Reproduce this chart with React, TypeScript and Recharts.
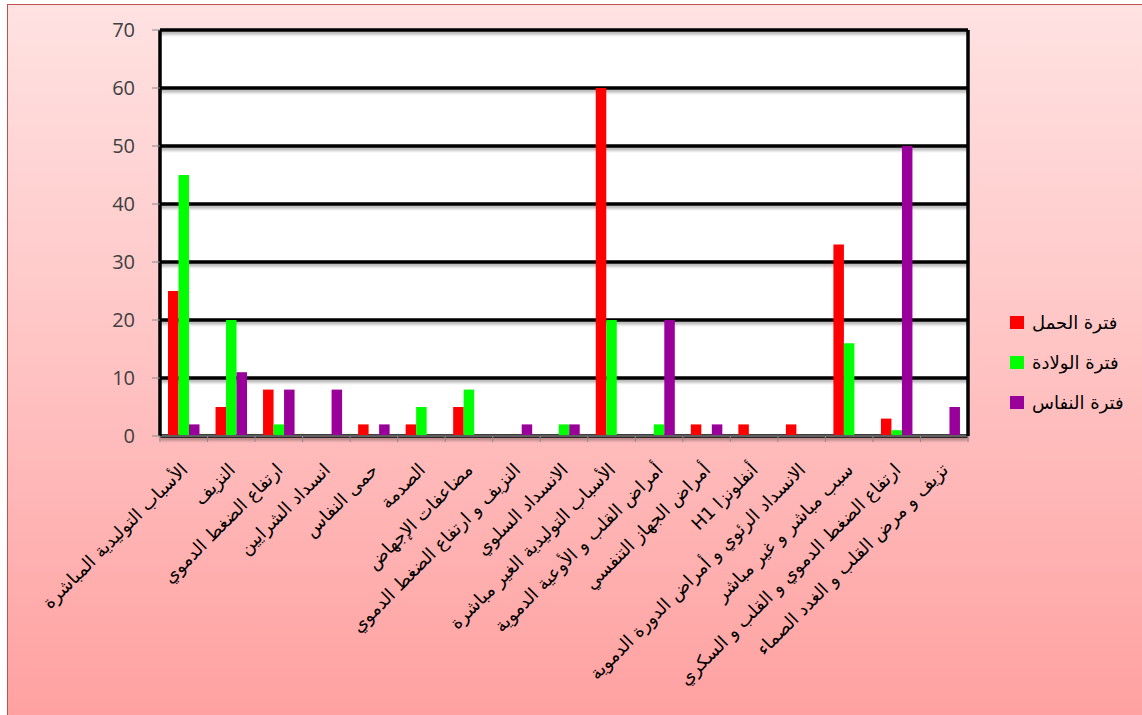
import { BarChart, Bar, XAxis, YAxis, CartesianGrid } from 'recharts'

// causes of maternal death, by period
const causes = [
  'الأسباب التوليدية المباشرة',
  'النزيف',
  'ارتفاع الضغط الدموي',
  'انسداد الشرايين',
  'حمى النفاس',
  'الصدمة',
  'مضاعفات الإجهاض',
  'النزيف و ارتفاع الضغط الدموي',
  'الانسداد السلوي',
  'الأسباب التوليدية الغير مباشرة',
  'أمراض القلب و الأوعية الدموية',
  'أمراض الجهاز التنفسي',
  'أنفلونزا H1',
  'الانسداد الرئوي و أمراض الدورة الدموية',
  'سبب مباشر و غير مباشر',
  'ارتفاع الضغط الدموي و القلب و السكري',
  'تزيف و مرض القلب و الغدد الصماء',
]

const pregnancy = [25, 5, 8, 0, 2, 2, 5, 0, 0, 60, 0, 2, 2, 2, 33, 3, 0]
const delivery = [45, 20, 2, 0, 0, 5, 8, 0, 2, 20, 2, 0, 0, 0, 16, 1, 0]
const postpartum = [2, 11, 8, 8, 2, 0, 0, 2, 2, 0, 20, 2, 0, 0, 0, 50, 5]

const yTicks = [0, 10, 20, 30, 40, 50, 60, 70]

const series = [
  { key: 'pregnancy', name: 'فترة الحمل', color: '#ff0000' },
  { key: 'delivery', name: 'فترة الولادة', color: '#00ff00' },
  { key: 'postpartum', name: 'فترة النفاس', color: '#990099' },
]

const data = causes.map((cause, i) => ({
  cause,
  pregnancy: pregnancy[i],
  delivery: delivery[i],
  postpartum: postpartum[i],
}))

const ARABIC_FONT = '"DejaVu Sans", sans-serif'

function CauseTick(props: any) {
  const { x, y, payload, index } = props
  const half = payload?.offset ?? 23.7
  const left = x - half
  return (
    <g>
      <line x1={left} y1={y} x2={left} y2={y + 6} stroke="#8a8a8a" strokeWidth={1} />
      {index === causes.length - 1 && (
        <line x1={x + half} y1={y} x2={x + half} y2={y + 6} stroke="#8a8a8a" strokeWidth={1} />
      )}
      <text
        transform={`translate(${x + 5},${y + 35}) rotate(-45)`}
        direction="rtl"
        textAnchor="start"
        fontFamily={ARABIC_FONT}
        fontSize={18}
        fill="#000"
      >
        {payload.value}
      </text>
    </g>
  )
}

function GridLine(p: any) {
  return (
    <line
      key={`grid-${p.index}`}
      x1={p.x1}
      y1={p.y1}
      x2={p.x2}
      y2={p.y2}
      stroke="#000"
      strokeWidth={3.5}
      filter="url(#gridShadow)"
    />
  )
}

export default function App() {
  return (
    <div
      style={{
        position: 'absolute',
        left: 0,
        top: 0,
        width: 1142,
        height: 715,
        overflow: 'hidden',
        background: '#fff',
      }}
    >
      <div
        style={{
          position: 'absolute',
          left: 7,
          top: 4,
          width: 1140,
          height: 720,
          border: '1.5px solid #c0504d',
          background: 'linear-gradient(to bottom, #ffe2e2 0%, #ffc6c6 45%, #ffa0a0 100%)',
        }}
      />
      <div style={{ position: 'absolute', left: 0, top: 0 }}>
        <BarChart
          width={1142}
          height={715}
          data={data}
          margin={{ top: 30, right: 172, bottom: 79, left: 100 }}
          barSize={10.5}
          barGap={0}
          barCategoryGap={0}
        >
          <defs>
            <filter id="gridShadow" filterUnits="userSpaceOnUse" x="0" y="0" width="1142" height="715">
              <feDropShadow dx="0" dy="2.5" stdDeviation="1.6" floodColor="#000" floodOpacity="0.35" />
            </filter>
          </defs>
          <CartesianGrid vertical={false} fill="#fff" horizontal={GridLine} yAxisId="l" />
          <XAxis
            dataKey="cause"
            interval={0}
            height={200}
            tickSize={0}
            tickMargin={0}
            tickLine={false}
            axisLine={{ stroke: '#5f5f5f', strokeWidth: 2 }}
            tick={<CauseTick />}
          />
          <YAxis
            yAxisId="l"
            domain={[0, 70]}
            ticks={yTicks}
            width={60}
            tickSize={8}
            tickMargin={17}
            tickLine={{ stroke: '#8a8a8a' }}
            axisLine={{ stroke: '#000', strokeWidth: 3.5 }}
            tick={{ fill: '#404040', fontSize: 20, fontFamily: '"Open Sans", sans-serif' }}
          />
          <YAxis
            yAxisId="r"
            orientation="right"
            domain={[0, 70]}
            width={2}
            tick={false}
            tickLine={false}
            axisLine={{ stroke: '#000', strokeWidth: 3.5 }}
          />
          {series.map((s) => (
            <Bar
              key={s.key}
              yAxisId="l"
              dataKey={s.key}
              name={s.name}
              fill={s.color}
              isAnimationActive={false}
            />
          ))}
        </BarChart>
      </div>
      <div style={{ position: 'absolute', left: 1010, top: 302 }}>
        {series.map((s) => (
          <div key={s.key} style={{ display: 'flex', alignItems: 'center', height: 40 }}>
            <span
              style={{
                display: 'inline-block',
                width: 14,
                height: 13,
                background: s.color,
                marginRight: 8,
              }}
            />
            <span style={{ fontFamily: ARABIC_FONT, fontSize: 18, color: '#000' }}>{s.name}</span>
          </div>
        ))}
      </div>
    </div>
  )
}
